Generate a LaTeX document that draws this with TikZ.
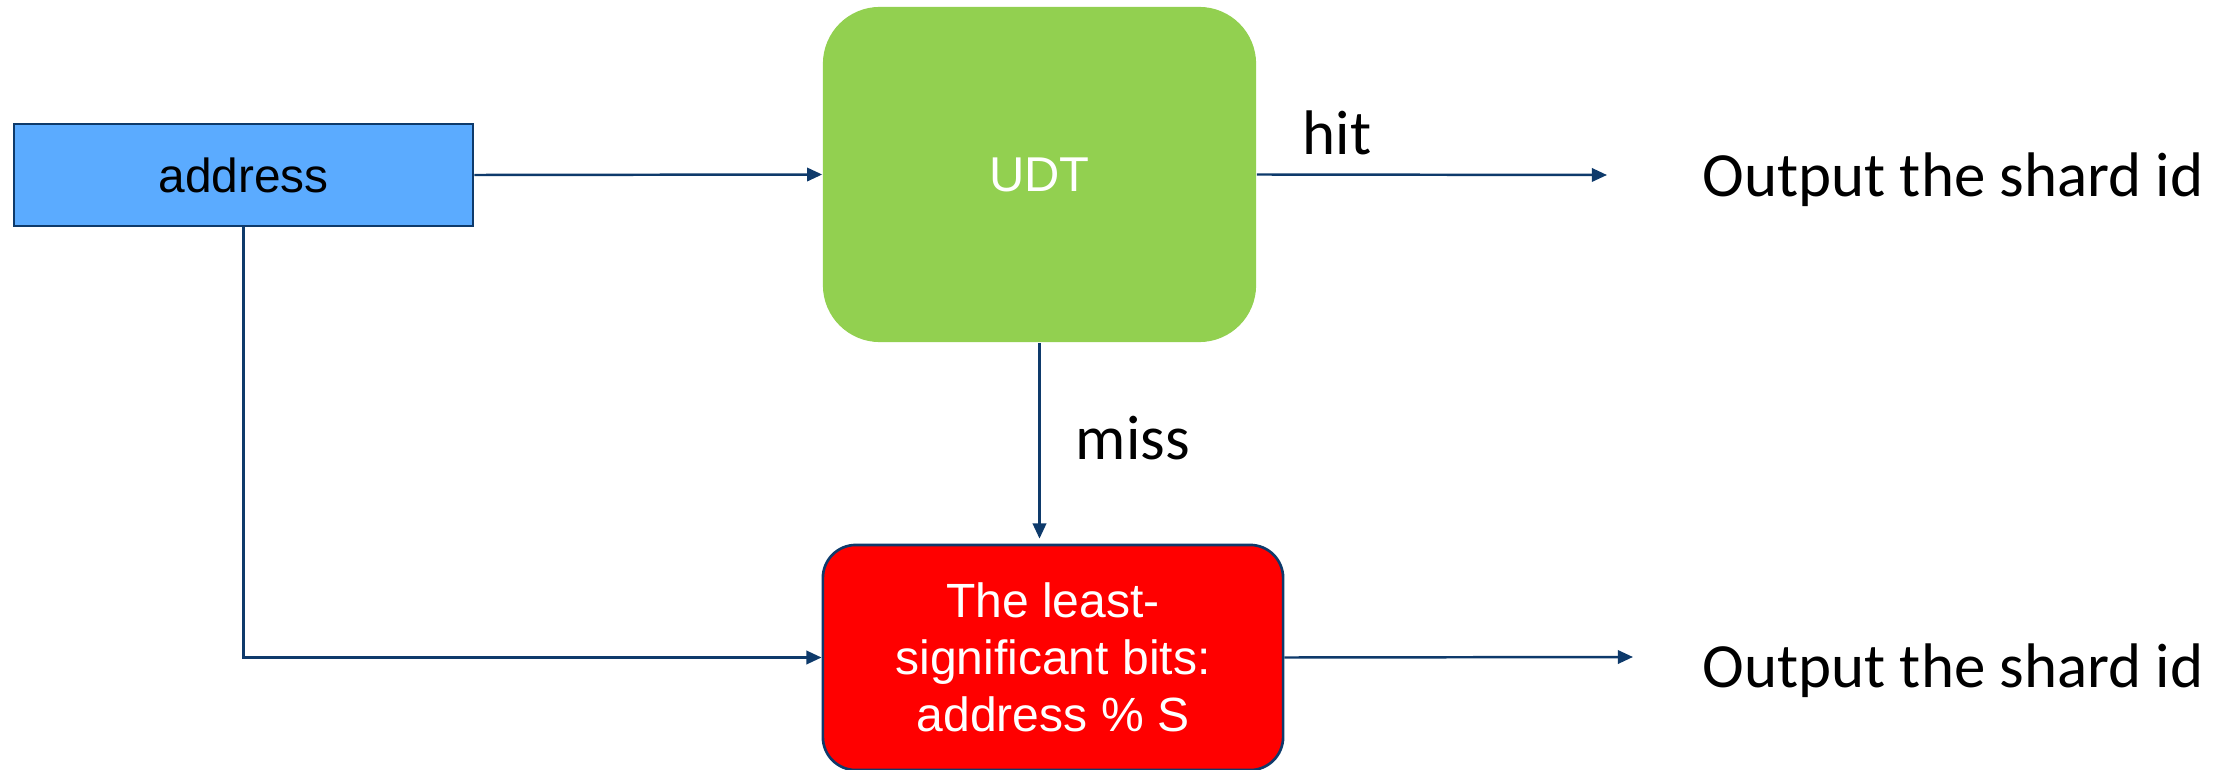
\documentclass[tikz,border=0pt]{standalone}
\usepackage{fontspec}
\setmainfont{Liberation Sans}
\newfontfamily\arialf{Liberation Sans}
\newfontfamily\calibf{Carlito}
\usetikzlibrary{arrows.meta}

\definecolor{navy}{HTML}{0E3A6B}
\definecolor{boxblue}{HTML}{5BABFF}
\definecolor{boxgreen}{HTML}{92D050}
\definecolor{boxred}{HTML}{FF0000}

\tikzset{
  conn/.style={draw=navy, line width=0.7pt,
    -{Triangle[length=4.3pt,width=3.8pt]}},
  blockbox/.style={inner sep=0pt, align=center},
  labeltext/.style={inner sep=0pt, anchor=base west,
    font=\calibf\fontsize{17.9}{21}\selectfont},
}

\begin{document}
\begin{tikzpicture}[x=0.01cm, y=-0.01cm]
  \useasboundingbox (0,0) rectangle (2226,770);

  % input register
  \node[blockbox, draw=navy, line width=0.75pt, fill=boxblue,
        minimum width=45.9mm, minimum height=10.2mm,
        font=\arialf\fontsize{13.6}{16}\selectfont]
        (addr) at (243.5,175) {address};

  % lookup table
  \node[blockbox, fill=boxgreen, rounded corners=16.2pt,
        minimum width=43.3mm, minimum height=33.5mm, text=white,
        font=\arialf\fontsize{13.9}{16}\selectfont]
        (udt) at (1039.5,174.5) {UDT};

  % fallback computation
  \node[blockbox, draw=navy, line width=0.75pt, fill=boxred,
        rounded corners=9.4pt, text=white,
        minimum width=46mm, minimum height=22.5mm,
        font=\arialf\fontsize{13.66}{16.2}\selectfont]
        (lsb) at (1053,657.5) {The least-\\significant bits:\\address \% S};

  % free ends of the output arrows
  \coordinate (hitend) at (1607,175);
  \coordinate (lsbend) at (1633,657);

  % texts
  \node[labeltext] (hit) at (1302,155) {hit};
  \node[labeltext] (miss) at (1075,459) {miss};
  \node[labeltext] (out1) at (1702,197) {Output the shard id};
  \node[labeltext] (out2) at (1702,687) {Output the shard id};

  % connectors
  \draw[conn] (addr.east) -- (udt.west);
  \draw[conn] (udt.east) -- (hitend);
  \draw[conn, shorten >=0.5mm] (udt.south) -- (udt.south |- lsb.north);
  \draw[conn] (addr.south) |- (lsb.west);
  \draw[conn] (lsb.east) -- (lsbend);
\end{tikzpicture}
\end{document}
